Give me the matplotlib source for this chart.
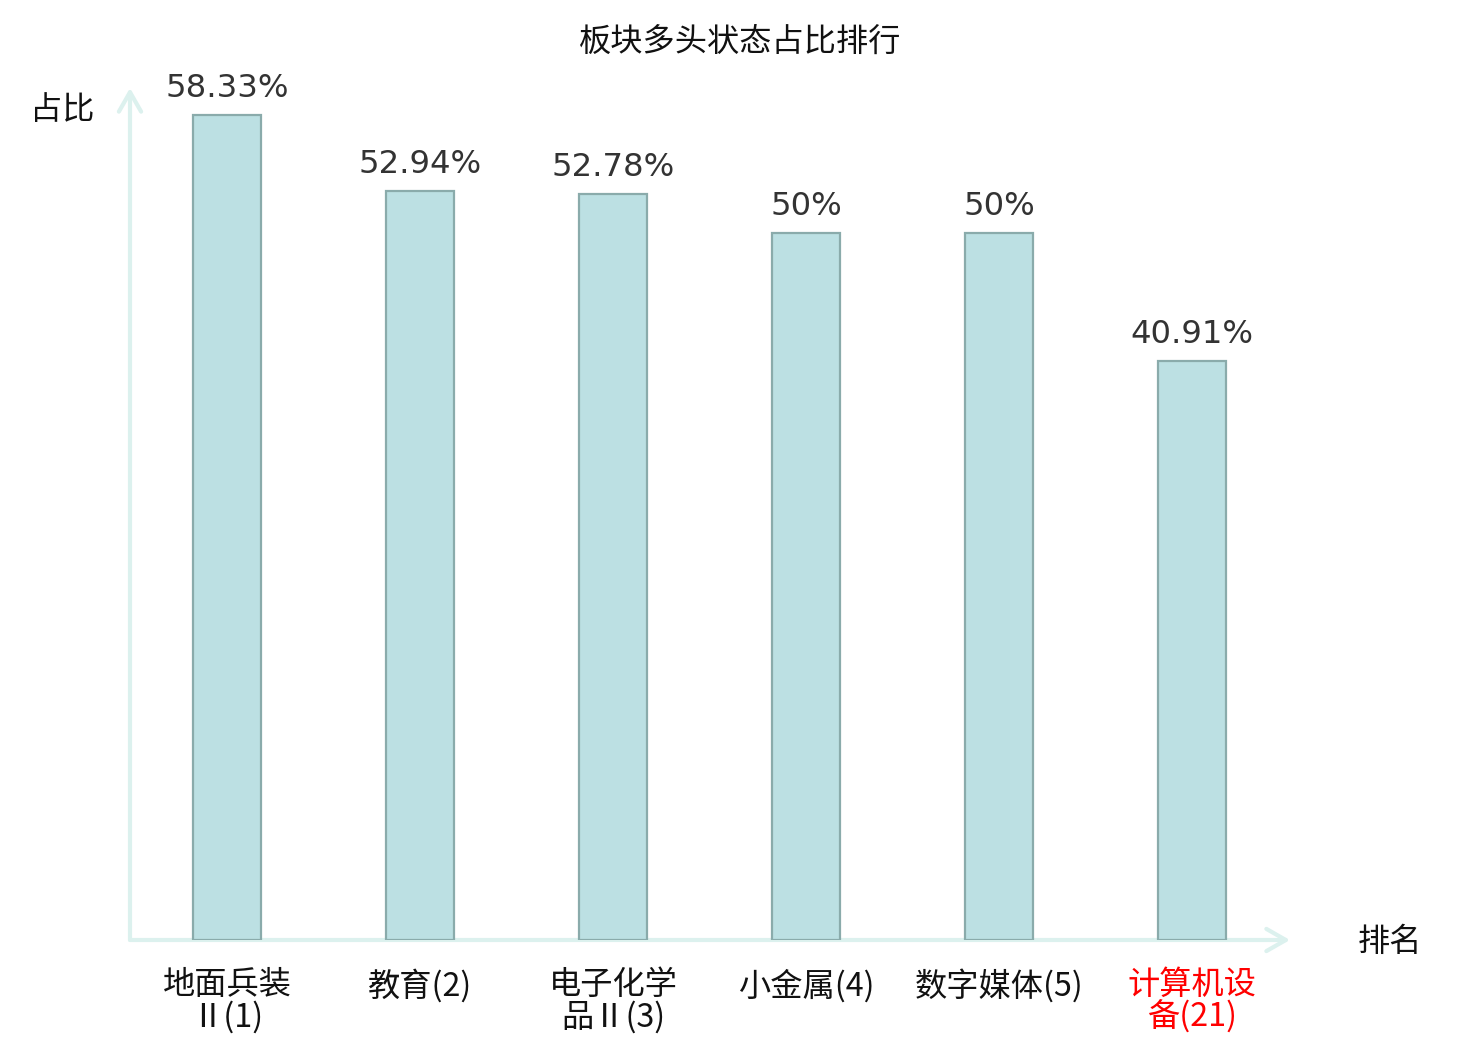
import matplotlib
matplotlib.use("Agg")
import matplotlib.pyplot as plt

plt.rcParams["font.family"] = ["Noto Sans CJK SC", "DejaVu Sans"]

# data
categories = ["地面兵装\nⅡ(1)", "教育(2)", "电子化学\n品Ⅱ(3)", "小金属(4)", "数字媒体(5)", "计算机设\n备(21)"]
shares = [58.33, 52.94, 52.78, 50.0, 50.0, 40.91]
share_labels = ["58.33%", "52.94%", "52.78%", "50%", "50%", "40.91%"]
highlight = [False, False, False, False, False, True]

BAR = "#bce0e3"
EDGE = "#8aabab"
AXIS = "#dcf1ee"
VAL = "#333333"
FS = 11.6

fig = plt.figure(figsize=(7.4, 5.2), dpi=200)
ax = fig.add_axes([130 / 1480, 100 / 1040, 1160 / 1480, 852 / 1040])

x = list(range(len(categories)))
ax.bar(x, shares, width=0.35, color=BAR, edgecolor=EDGE, linewidth=0.8, zorder=3)

for xi, v, lab in zip(x, shares, share_labels):
    ax.annotate(lab, (xi, v), xytext=(0, 4), textcoords="offset points",
                ha="center", va="bottom", fontsize=FS, color=VAL,
                family="DejaVu Sans")

ax.set_xlim(-0.503, 5.508)
ax.set_ylim(0, 60.25)
ax.set_yticks([])
ax.set_xticks(x)
ax.set_xticklabels(categories, fontsize=FS, linespacing=0.98)
ax.tick_params(axis="x", length=0, pad=10.5)
for tl, hl in zip(ax.get_xticklabels(), highlight):
    tl.set_color("#ff0000" if hl else "#111111")
for s in ax.spines.values():
    s.set_visible(False)

# axis arrows
arrow = dict(arrowstyle="->,head_length=0.7,head_width=0.4", color=AXIS,
             linewidth=1.5, shrinkA=0, shrinkB=0)
ax.annotate("", xy=(1.0, 0), xytext=(0, 0), xycoords="axes fraction",
            textcoords="axes fraction", arrowprops=arrow, zorder=1)
ax.annotate("", xy=(0, 1.0), xytext=(0, 0), xycoords="axes fraction",
            textcoords="axes fraction", arrowprops=arrow, zorder=1)

fig.text(62 / 1480, 1 - 110 / 1040, "占比", ha="center", va="center", fontsize=FS, color="#111111")
fig.text(1390 / 1480, 1 - 942 / 1040, "排名", ha="center", va="center", fontsize=FS, color="#111111")
fig.text(740 / 1480, 1 - 42 / 1040, "板块多头状态占比排行", ha="center", va="center", fontsize=FS, color="#111111")

fig.savefig("out.png", dpi=200, facecolor="white")
